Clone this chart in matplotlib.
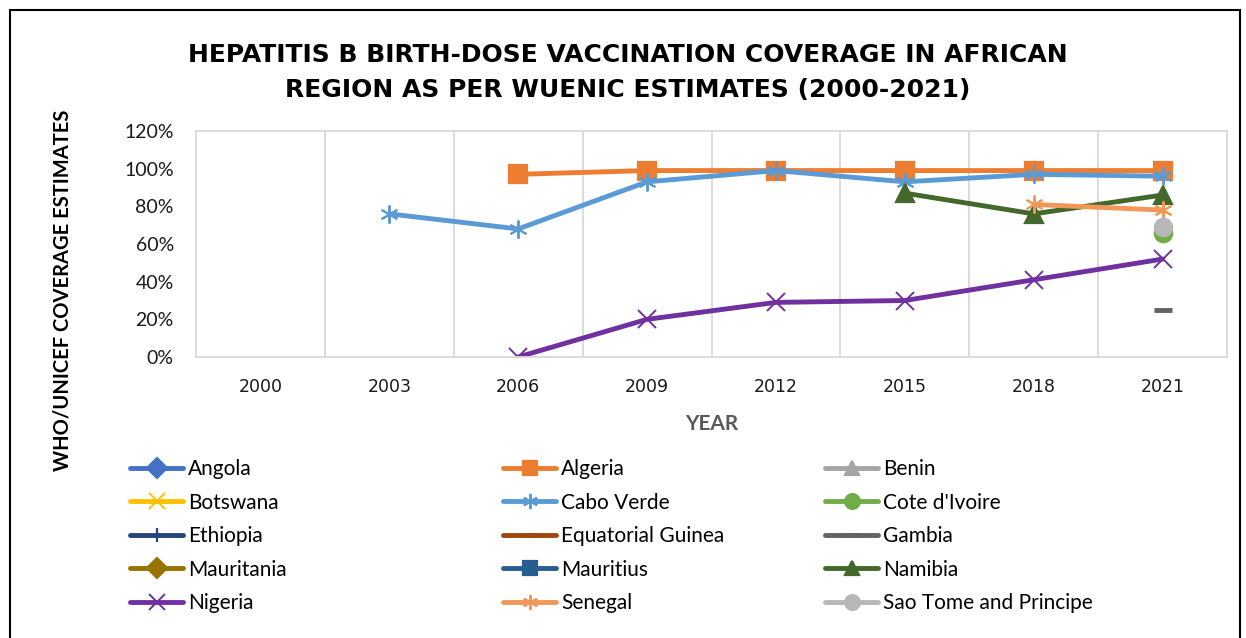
import numpy as np
import matplotlib.pyplot as plt
from matplotlib.patches import Rectangle
from matplotlib.ticker import PercentFormatter

plt.rcParams['font.family'] = ['Lato', 'DejaVu Sans']

years = ['2000', '2003', '2006', '2009', '2012', '2015', '2018', '2021']
nan = np.nan

# coverage, fraction of births (blank years left as NaN)
angola = [nan] * 8
algeria = [nan, nan, 0.97, 0.99, 0.99, 0.99, 0.99, 0.99]
benin = [nan] * 8
botswana = [nan] * 8
cabo_verde = [nan, 0.76, 0.68, 0.93, 0.99, 0.93, 0.97, 0.96]
cote_divoire = [nan, nan, nan, nan, nan, nan, nan, 0.66]
ethiopia = [nan] * 8
eq_guinea = [nan] * 8
gambia = [nan, nan, nan, nan, nan, nan, nan, 0.25]
mauritania = [nan] * 8
mauritius = [nan] * 8
namibia = [nan, nan, nan, nan, nan, 0.87, 0.76, 0.86]
nigeria = [nan, nan, 0.00, 0.20, 0.29, 0.30, 0.41, 0.52]
senegal = [nan, nan, nan, nan, nan, nan, 0.81, 0.78]
sao_tome = [nan, nan, nan, nan, nan, nan, nan, 0.69]

series = [
    ('Angola', angola, '#4472C4', 'D'),
    ('Algeria', algeria, '#ED7D31', 's'),
    ('Benin', benin, '#A5A5A5', '^'),
    ('Botswana', botswana, '#FFC000', 'x'),
    ('Cabo Verde', cabo_verde, '#5B9BD5', (6, 2, 0)),
    ("Cote d'Ivoire", cote_divoire, '#70AD47', 'o'),
    ('Ethiopia', ethiopia, '#264478', '|'),
    ('Equatorial Guinea', eq_guinea, '#9E480E', '_'),
    ('Gambia', gambia, '#636363', '_'),
    ('Mauritania', mauritania, '#997300', 'D'),
    ('Mauritius', mauritius, '#255E91', 's'),
    ('Namibia', namibia, '#43682B', '^'),
    ('Nigeria', nigeria, '#7030A0', 'x'),
    ('Senegal', senegal, '#F1975A', (6, 2, 0)),
    ('Sao Tome and Principe', sao_tome, '#B7B7B7', 'o'),
]

W, H = 1246, 638
fig = plt.figure(figsize=(W / 100, H / 100), dpi=100)
ax = fig.add_axes([196 / W, 1 - 357 / H, (1227 - 196) / W, (357 - 131) / H])

x = np.arange(len(years))
handles = {}
for name, vals, col, mk in series:
    ms, mew = 12.5, 1.6
    if mk in ('x', (6, 2, 0)):
        ms, mew = 13, 1.4
    if mk == '_':
        ms, mew = 13, 3.5
    if mk == '|':
        ms, mew = 12, 1.6
    h, = ax.plot(x, vals, color=col, lw=3.5, marker=mk, ms=ms, mew=mew,
                 mfc=col, mec=col, solid_capstyle='round', label=name)
    handles[name] = h

ax.set_xlim(-0.5, len(years) - 0.5)
ax.set_ylim(0, 1.2)
ax.set_yticks(np.arange(0, 1.21, 0.2))
ax.yaxis.set_major_formatter(PercentFormatter(1.0, decimals=0))
ax.set_xticks(x)
ax.set_xticklabels(years)
ax.set_xticks(x[:-1] + 0.5, minor=True)
ax.grid(True, which='minor', axis='x', color='#D9D9D9', lw=1.3)
ax.tick_params(which='both', length=0)
ax.tick_params(axis='x', pad=15, labelsize=12.5, colors='#1a1a1a')
ax.tick_params(axis='y', pad=16, labelsize=14, colors='#1a1a1a')
for lab in ax.get_xticklabels():
    lab.set_fontfamily(['DejaVu Sans'])
for s in ax.spines.values():
    s.set_color('#D9D9D9')
    s.set_linewidth(1.3)

ax.set_xlabel('YEAR', fontsize=15, fontweight='bold', color='#595959', labelpad=13)
fig.text(63 / W, 1 - 290 / H, 'WHO/UNICEF COVERAGE ESTIMATES', rotation=90,
         ha='center', va='center', fontsize=14.5, fontweight='bold')

fig.text(628 / W, 1 - 55 / H, 'HEPATITIS B BIRTH-DOSE VACCINATION COVERAGE IN AFRICAN',
         ha='center', va='center', fontsize=18, fontweight='bold',
         family='DejaVu Sans')
fig.text(628 / W, 1 - 90 / H, 'REGION AS PER WUENIC ESTIMATES (2000-2021)',
         ha='center', va='center', fontsize=18, fontweight='bold',
         family='DejaVu Sans')

# outer frame
fig.patches.append(Rectangle((10 / W, -0.05), (1240 - 10) / W, 1.05 - 10 / H,
                             transform=fig.transFigure, fill=False,
                             ec='black', lw=1.5))

cols = [
    (['Angola', 'Botswana', 'Ethiopia', 'Mauritania', 'Nigeria'], 130),
    (['Algeria', 'Cabo Verde', 'Equatorial Guinea', 'Mauritius', 'Senegal'], 503),
    (['Benin', "Cote d'Ivoire", 'Gambia', 'Namibia', 'Sao Tome and Principe'], 825),
]
for names, px in cols:
    fig.legend([handles[n] for n in names], names, loc='upper left',
               bbox_to_anchor=(px / W, 1 - 459 / H), frameon=False,
               fontsize=15, handlelength=2.55, handletextpad=0.24,
               labelspacing=0.65, borderpad=0, borderaxespad=0,
               markerscale=0.85)

fig.savefig('out.png', dpi=100)
